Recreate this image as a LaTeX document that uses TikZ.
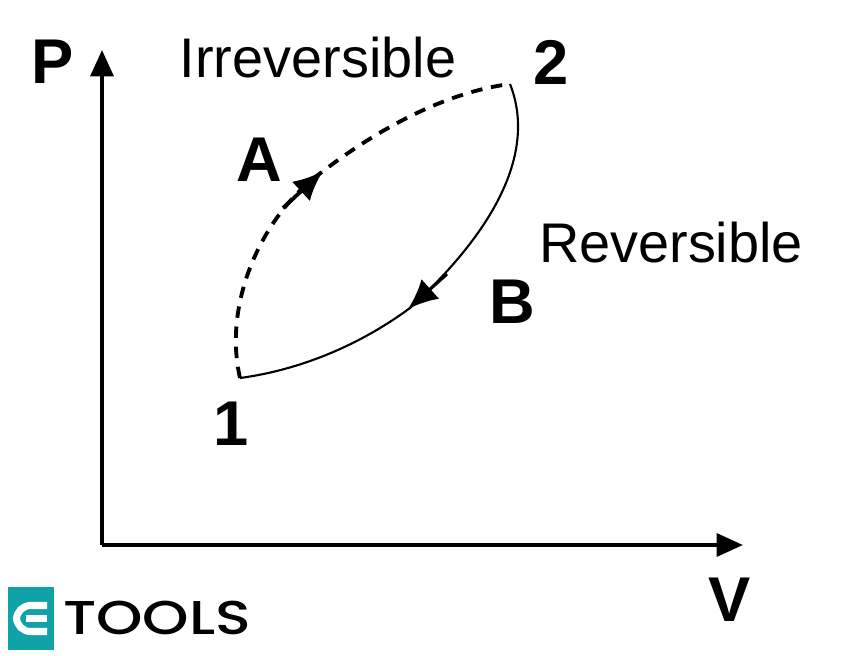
\documentclass[tikz,border=0pt]{standalone}
\usepackage{fontspec}
\setmainfont{Liberation Sans}
\newfontfamily\logofont{Poppins Medium}
\usetikzlibrary{arrows.meta}
\definecolor{logoteal}{HTML}{0FA3A8}
\tikzset{
    axisline/.style={line width=2.2pt, -{Triangle[length=15pt, width=13pt]}},
    dashcurve/.style={line width=2.2pt, dash pattern=on 6.5pt off 5pt},
    solidcurve/.style={line width=1.2pt},
    tipline/.style={-{Latex[length=17pt, width=15pt]}},
    curvelabel/.style={font=\fontsize{31.8}{34}\selectfont, inner sep=0pt},
    pointlabel/.style={font=\fontsize{36}{38}\selectfont\bfseries, inner sep=0pt},
}
\begin{document}
\begin{tikzpicture}[x=0.02cm, y=-0.02cm]
    \useasboundingbox (0,0) rectangle (866,656);

    % axes
    \coordinate (O) at (102,545);
    \coordinate (Ptip) at (102,50);
    \coordinate (Vtip) at (743,545);
    \draw[axisline] (O) -- (Ptip);
    \draw[axisline] (O) -- (Vtip);

    % cycle
    \coordinate (pt1) at (240,378);
    \coordinate (pt2) at (510,84);
    \draw[dashcurve] (pt1) .. controls (222,300) and (265,212) .. (322,172)
        .. controls (370,135) and (440,93) .. (pt2);
    \draw[solidcurve] (pt2) .. controls (538,155) and (490,235) .. (410,308)
        .. controls (360,345) and (300,370) .. (pt1);
    \coordinate (Atail) at (283,208);
    \coordinate (Ahead) at (323,171);
    \coordinate (Btail) at (447,274);
    \coordinate (Bhead) at (408,309);
    \draw[tipline, line width=2.2pt] (Atail) -- (Ahead);
    \draw[tipline, line width=1.8pt] (Btail) -- (Bhead);

    % labels
    \node[pointlabel] (lblP) at (53,62) {P};
    \node[pointlabel] (lblV) at (730,600) {V};
    \node[pointlabel] (lbl1) at (231,424) {1};
    \node[pointlabel] (lbl2) at (551,62) {2};
    \node[pointlabel] (lblA) at (259,160) {A};
    \node[pointlabel] (lblB) at (512,302) {B};
    \node[curvelabel] (irrev) at (318,58) {Irreversible};
    \node[curvelabel] (rev) at (671,243) {Reversible};

    % logo
    \fill[logoteal] (8,587) rectangle (54,650);
    \draw[white, line width=4pt, rounded corners=8pt] (47,605.5) -- (16.5,605.5) -- (16.5,631.5) -- (47,631.5);
    \draw[white, line width=4pt] (26,618.5) -- (47,618.5);
    \node[inner sep=0pt, xscale=1.245, font=\fontsize{27}{30}\selectfont\logofont] (logotext) at (157,618) {TOOLS};
\end{tikzpicture}
\end{document}
